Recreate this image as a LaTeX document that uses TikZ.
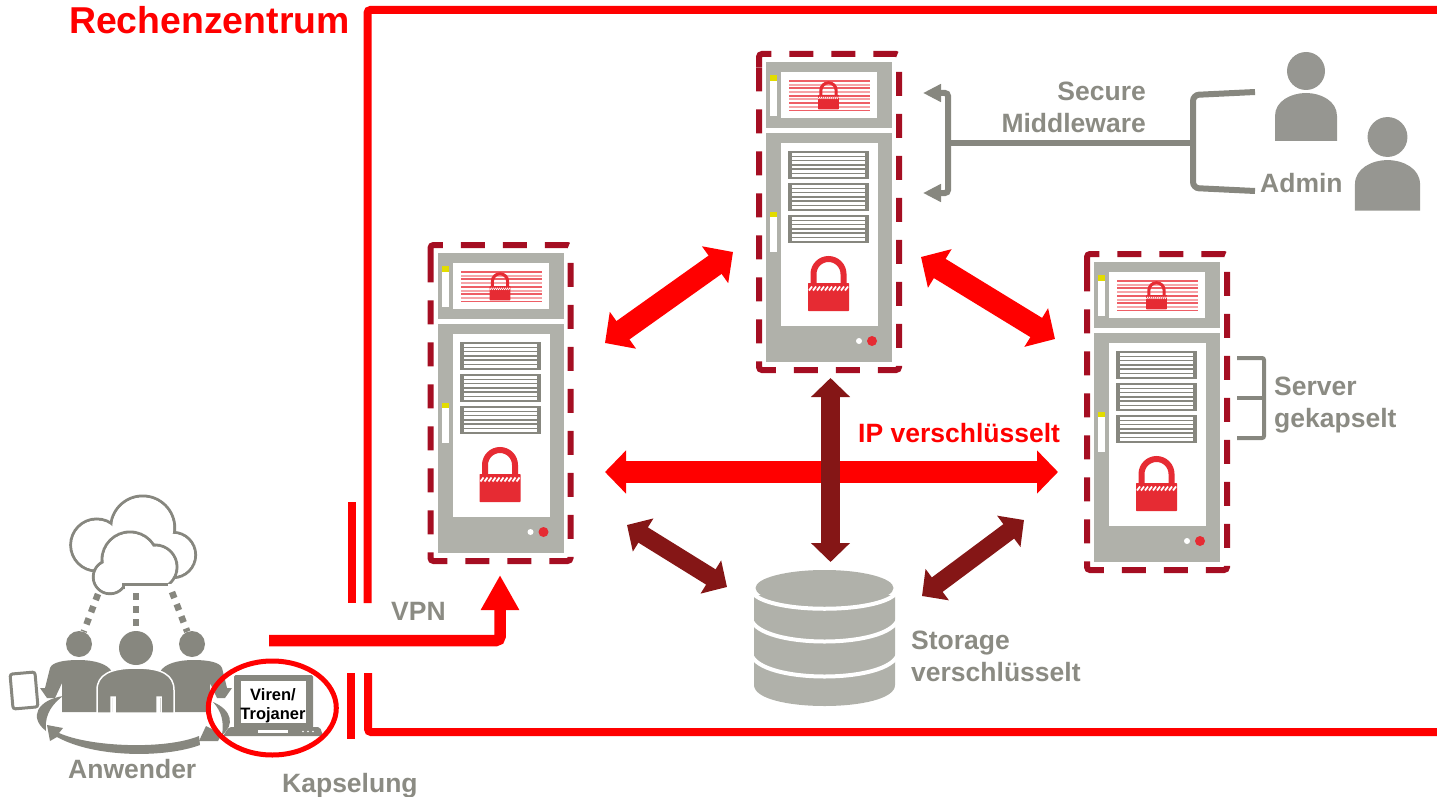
\documentclass[tikz,border=0pt]{standalone}
\usepackage{fontspec}
\setmainfont{Liberation Sans}
\usepackage{tikz}
\usetikzlibrary{arrows.meta}
\usetikzlibrary{shapes,calc}
\definecolor{wallred}{HTML}{FF0000}
\definecolor{framered}{HTML}{A50E22}
\definecolor{lockred}{HTML}{E62B33}
\definecolor{stripered}{HTML}{EE5E66}
\definecolor{stripepale}{HTML}{F6A5A9}
\definecolor{darkred}{HTML}{851616}
\definecolor{servergray}{HTML}{B0B1AA}
\definecolor{usergray}{HTML}{87877F}
\definecolor{admingray}{HTML}{969691}
\definecolor{textgray}{HTML}{8B8B83}
\definecolor{techyellow}{HTML}{E2DC00}
\begin{document}
\begin{tikzpicture}[x=1pt,y=-1pt]
    \newcommand{\lockicon}[3]{
      \begin{scope}[shift={(#1,#2)},scale=#3]
        \draw[draw=lockred,line width=#3*6pt] (-15,2)--(-15,-9) arc[start angle=180,end angle=360,radius=15]--(15,2);
        \fill[lockred,rounded corners=0.7pt] (-20.5,0) rectangle (20.5,28);
        \foreach \i in {-18,-14,...,18} {
          \draw[white,line width=#3*1.8pt] (\i-1.5,7.5)--(\i+1.5,3.5);
        }
      \end{scope}
    }
    \newcommand{\serverrack}[1]{
      \fill[usergray] (29,#1) rectangle (110,#1+28);
      \foreach \i in {0,...,5} {
        \fill[white] (33,#1+2+\i*4.2) rectangle (106,#1+4.8+\i*4.2);
      }
    }
    \newcommand{\serverbox}[2]{
      \begin{scope}[shift={(#1,#2)}]
        \fill[servergray] (7,8) rectangle (133,74);
        \fill[servergray] (7,79) rectangle (133,308);
        \fill[white] (22,18) rectangle (118,64);
        \foreach \i in {0,2,4,6,8} {
          \fill[stripered] (30,26+\i*3.7) rectangle (111,27.8+\i*3.7);
        }
        \foreach \i in {1,3,5,7} {
          \fill[stripepale] (30,26+\i*3.7) rectangle (111,28+\i*3.7);
        }
        \lockicon{69.5}{41}{0.51}
        \fill[white] (11,21) rectangle (18,62);
        \fill[techyellow] (11,21) rectangle (18,27);
        \fill[white] (22,89) rectangle (119,272);
        \serverrack{97}
        \serverrack{129}
        \serverrack{161}
        \fill[white] (11,158) rectangle (18,198);
        \fill[techyellow] (11,158) rectangle (18,163);
        \lockicon{69.5}{229}{1}
        \fill[white] (100,287) circle (3);
        \fill[lockred] (113,287) circle (5);
        \draw[serverframe] (0,16)--(0,0)--(140,0)--(140,316)--(0,316)--cycle;
      \end{scope}
    }
    \newcommand{\adminuser}[3]{
      \begin{scope}[shift={(#1,#2)},scale=#3]
        \fill[admingray] (0,0) circle (19);
        \fill[admingray] (-31,70)--(-31,45) .. controls (-31,30) and (-15,22) .. (0,22) .. controls (15,22) and (31,30) .. (31,45)--(31,70)--cycle;
      \end{scope}
    }
    \tikzstyle{serverframe} = [draw=framered,line width=6pt,rounded corners=3pt,dash pattern=on 24pt off 18pt]
    \tikzstyle{wall} = [draw=wallred,line width=8pt,rounded corners=3pt]
    \tikzstyle{redarrow} = [draw=wallred,line width=22.5pt,{Triangle[width=44pt,length=22pt]}-{Triangle[width=44pt,length=22pt]}]
    \tikzstyle{darkarrow} = [draw=darkred,line width=18pt,{Triangle[width=38pt,length=19pt]}-{Triangle[width=38pt,length=19pt]}]
    \tikzstyle{grayline} = [draw=usergray,line width=6pt,rounded corners=3pt]
    \tikzstyle{graytext} = [font=\bfseries\fontsize{26.5}{32}\selectfont,text=textgray,inner sep=0pt]
    \tikzstyle{userhead} = [circle,fill=usergray,inner sep=0pt]
    \tikzstyle{clouddash} = [usergray,line width=6.5pt,dash pattern=on 6.5pt off 6.5pt]

    \useasboundingbox (0,0) rectangle (1437,797);

    \draw[wall] (1441,10)--(367.5,10)--(367.5,603);
    \draw[wall] (1441,732)--(368,732)--(368,673);
    \draw[wall] (352,502)--(352,603);
    \draw[wall] (351,673)--(351,739);

    \serverbox{430.5}{245}
    \serverbox{759}{54}
    \serverbox{1087}{254}

    \coordinate (leftup) at (605,343);
    \coordinate (topleft) at (733,252);
    \coordinate (topright) at (921,257);
    \coordinate (rightup) at (1055,339);
    \coordinate (leftmid) at (605,472);
    \coordinate (rightmid) at (1058,472);
    \coordinate (topdown) at (830.5,378);
    \coordinate (stortop) at (830.5,562);
    \coordinate (leftlow) at (627,525);
    \coordinate (storleft) at (727,587);
    \coordinate (rightlow) at (1024,520);
    \coordinate (storright) at (922,596);

    \draw[redarrow] (leftup)--(topleft);
    \draw[redarrow] (topright)--(rightup);
    \draw[redarrow,line width=21.5pt,{Triangle[width=42pt,length=21pt]}-{Triangle[width=42pt,length=21pt]}] (leftmid)--(rightmid);
    \draw[darkarrow,line width=19pt] (topdown)--(stortop);
    \draw[darkarrow] (leftlow)--(storleft);
    \draw[darkarrow] (rightlow)--(storright);

    \fill[servergray] (754,595)--(754,685) .. controls (754,713) and (895,713) .. (895,685)--(895,595)--cycle;
    \draw[white,line width=4pt] (751,590) .. controls (760,615) and (889,615) .. (898,590);
    \draw[white,line width=4pt] (751,619) .. controls (760,649) and (889,649) .. (898,619);
    \draw[white,line width=4pt] (751,654) .. controls (760,684) and (889,684) .. (898,654);
    \fill[servergray] (824.5,588) ellipse (69 and 18);

    \coordinate (vpnstart) at (269,640.5);
    \coordinate (vpncorner) at (500,640.5);
    \coordinate (vpnend) at (500,575);
    \draw[draw=wallred,line width=11.5pt,rounded corners=4pt,-{Triangle[width=36pt,length=35pt]}] (vpnstart)--(vpncorner)--(vpnend);

    \coordinate (mwtop) at (923,93);
    \coordinate (mwbottom) at (923,193);
    \coordinate (mwleft) at (948,143);
    \coordinate (mwright) at (1193,143);
    \coordinate (admintop) at (1255,92);
    \coordinate (adminbottom) at (1255,191);
    \draw[grayline,{Triangle[width=17pt,length=18pt]}-{Triangle[width=17pt,length=18pt]}] (mwtop)--(948,93)--(948,193)--(mwbottom);
    \draw[grayline] (mwleft)--(mwright);
    \draw[grayline,rounded corners=6pt] (admintop)--(1193,95)--(1193,188)--(adminbottom);
    \adminuser{1306}{71}{1}
    \adminuser{1387.5}{137}{1.05}

    \draw[grayline,line width=4pt,rounded corners=2pt] (1237,358)--(1264,358)--(1264,438)--(1237,438);
    \draw[grayline,line width=4pt] (1237,398)--(1264,398);

    \foreach \cx/\cy/\cr in {96.7/545/26,142.7/528/32,173/555/22.6} {
      \draw[usergray,line width=3pt] (\cx,\cy) circle (\cr);
    }
    \foreach \cx/\cy/\cr in {96.7/545/24.5,142.7/528/30.5,173/555/21.1} {
      \fill[white] (\cx,\cy) circle (\cr);
    }
    \foreach \cx/\cy/\cr in {110/577/16.7,130/560/28,155/567/22} {
      \draw[usergray,line width=3pt] (\cx,\cy) circle (\cr);
    }
    \fill[white] (124.5,584) rectangle (172,592);
    \foreach \cx/\cy/\cr in {110/577/15.2,130/560/26.5,155/567/20.5} {
      \fill[white] (\cx,\cy) circle (\cr);
    }
    \fill[white] (110,566) rectangle (166,583);
    \draw[usergray,line width=3pt] (122,584.5)--(168,584.5);

    \node[userhead,minimum size=26pt] (usera) at (79,644) {};
    \node[userhead,minimum size=34pt] (userb) at (136,648) {};
    \node[userhead,minimum size=26pt] (userc) at (192,644) {};
    \coordinate (clouda) at (98,594);
    \coordinate (cloudb) at (136,593);
    \coordinate (cloudc) at (172,592);
    \draw[clouddash] (clouda)--(usera);
    \draw[clouddash] (cloudb)--(userb);
    \draw[clouddash] (cloudc)--(userc);

    \fill[usergray] (62,712)--(62,683)--(55,698)--(47,698)--(40,688)--(45,688)--(50,668) .. controls (52,662) and (65,660) .. (78,660) .. controls (95,660) and (108,664) .. (112,672)--(112,712)--cycle;
    \fill[usergray] (210,712)--(210,683)--(217,698)--(225,698)--(232,688)--(227,688)--(222,668) .. controls (220,662) and (207,660) .. (194,660) .. controls (177,660) and (164,664) .. (160,672)--(160,712)--cycle;
    \draw[usergray,fill=usergray,draw=white,line width=1.5pt] (97,713)--(97,690) .. controls (97,675) and (110,668) .. (136,668) .. controls (162,668) and (174,675) .. (174,690)--(174,713)--(161,713)--(161,697)--(157,697)--(157,713)--(115,713)--(115,697)--(111,697)--(111,713)--cycle;

    \node[draw=usergray,line width=3pt,rounded corners=2.5pt,rotate=5,minimum width=25pt,minimum height=35pt,inner sep=0pt] (tablet) at (24,690.5) {};

    \fill[usergray] (47,725)--(63,728)--(59,733) .. controls (90,747) and (165,750) .. (199,736)--(200,745) .. controls (165,758) and (95,758) .. (57,737)--(50,741)--cycle;
    \fill[usergray] (63,696) .. controls (38,700) and (28,717) .. (46,731) .. controls (45,720) and (47,708) .. (63,696)--cycle;
    \fill[usergray] (213,702) .. controls (232,710) and (235,725) .. (222,735) .. controls (224,722) and (222,712) .. (213,702)--cycle;
    \fill[usergray] (199,741)--(206,726)--(222,734)--(218,741)--cycle;

    \fill[usergray,rounded corners=1.5pt] (234,675) rectangle (313,728);
    \fill[usergray,rounded corners=2pt] (223,736)--(229,727)--(320,727)--(323,736)--cycle;
    \fill[white] (241,681) rectangle (306,723);
    \fill[white] (258,730) rectangle (288,733);
    \foreach \i in {303,308,313} {
      \fill[white] (\i,731.5) circle (0.8);
    }
    \node[inner sep=0pt,align=center,font=\bfseries\fontsize{16.5}{19}\selectfont] (laptop) at (273,706) {Viren/\\Trojaner};
    \node[ellipse,draw=wallred,line width=5pt,minimum width=128pt,minimum height=94pt,inner sep=0pt] (virus) at (272.3,708) {};

    \node[anchor=base west,inner sep=0pt,text=wallred,font=\bfseries\fontsize{37.4}{39}\selectfont] (title) at (69,34) {Rechenzentrum};
    \node[anchor=base east,graytext,align=right] (middleware) at (1146,132) {Secure\\Middleware};
    \node[anchor=base west,graytext] (admin) at (1260,192) {Admin};
    \node[anchor=base west,graytext,align=left] (server) at (1274,427) {Server\\gekapselt};
    \node[anchor=base west,inner sep=0pt,text=wallred,font=\bfseries\fontsize{26.5}{32}\selectfont] (ipcrypt) at (858,442) {IP verschlüsselt};
    \node[anchor=base west,graytext,align=left] (storage) at (911,681) {Storage\\verschlüsselt};
    \node[anchor=base west,graytext] (vpn) at (391,620) {VPN};
    \node[anchor=base west,graytext] (anwender) at (68,778) {Anwender};
    \node[anchor=base west,graytext] (kapselung) at (282,792) {Kapselung};
\end{tikzpicture}
\end{document}
